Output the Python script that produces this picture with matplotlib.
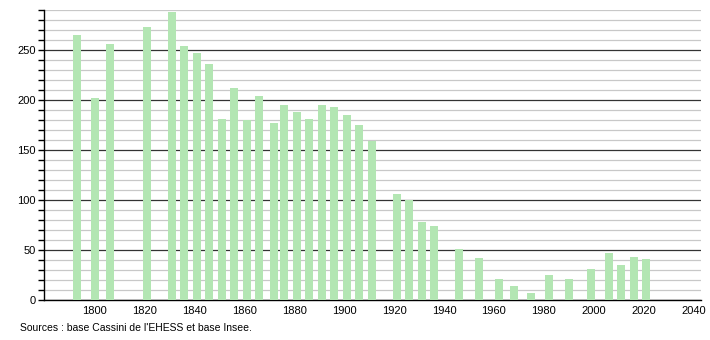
import matplotlib
matplotlib.use('Agg')
from matplotlib import pyplot as plt
from matplotlib.ticker import MultipleLocator

annees = [1793, 1800, 1806, 1821, 1831, 1836, 1841, 1846, 1851, 1856,
          1861, 1866, 1872, 1876, 1881, 1886, 1891, 1896, 1901, 1906,
          1911, 1921, 1926, 1931, 1936, 1946, 1954, 1962, 1968, 1975,
          1982, 1990, 1999, 2006, 2011, 2016, 2021]
population = [265, 202, 256, 273, 288, 254, 247, 236, 181, 212,
              180, 204, 177, 195, 188, 181, 195, 193, 185, 175,
              159, 106, 100, 78, 74, 51, 42, 21, 14, 7,
              25, 21, 31, 47, 35, 43, 41]
xticks = [1800, 1820, 1840, 1860, 1880, 1900, 1920, 1940, 1960, 1980, 2000, 2020, 2040]

plt.rcParams['font.family'] = ['Liberation Sans', 'DejaVu Sans']

fig = plt.figure(figsize=(7.1, 3.4), dpi=100)
ax = fig.add_axes([44/710, 1 - 300/340, (701 - 44)/710, 290/340])

ax.bar(annees, population, width=3.2, color='#b3e6b3', zorder=3)

ax.set_xlim(1779.7, 2043)
ax.set_ylim(0, 290)
ax.yaxis.set_major_locator(MultipleLocator(50))
ax.yaxis.set_minor_locator(MultipleLocator(10))
ax.set_xticks(xticks)
ax.grid(which='minor', axis='y', color='#c8c8c8', linewidth=0.9, zorder=1)
ax.grid(which='major', axis='y', color='#333333', linewidth=0.9, zorder=2)

for s in ['top', 'right']:
    ax.spines[s].set_visible(False)
ax.spines['left'].set_linewidth(1)
ax.spines['bottom'].set_linewidth(1)
ax.tick_params(axis='y', which='both', length=4, width=1, labelsize=8, pad=2)
ax.tick_params(axis='x', length=0, labelsize=8, pad=4)

fig.text(20/710, 1 - 328/340, "Sources : base Cassini de l'EHESS et base Insee.",
         fontsize=7.5, va='center', ha='left')

fig.savefig('out.png', dpi=100)
